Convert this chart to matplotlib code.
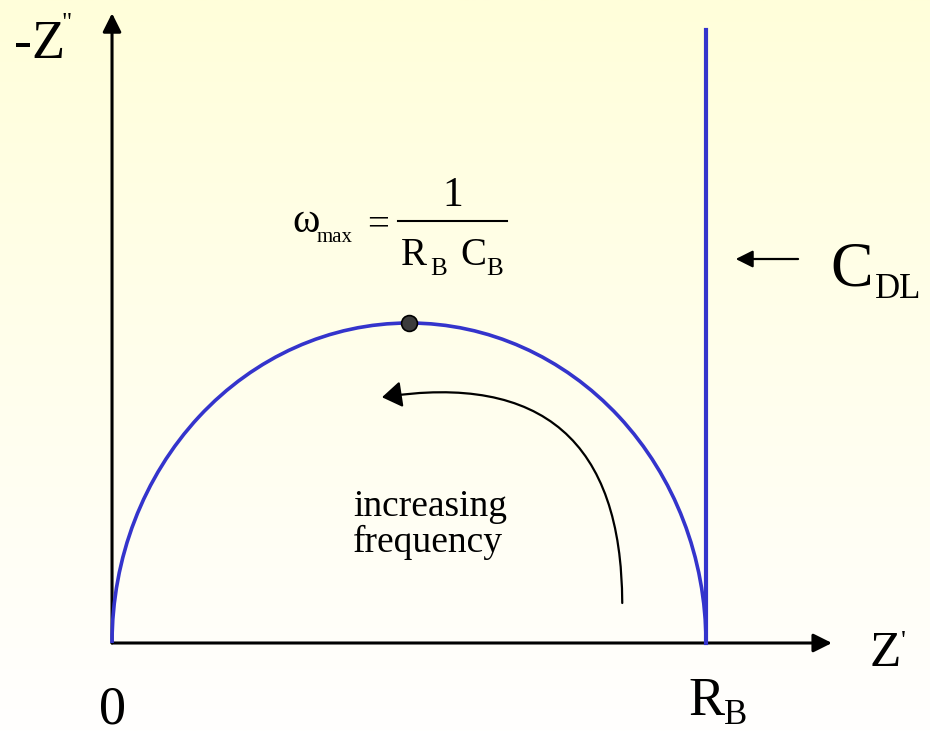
import matplotlib.pyplot as plt
from matplotlib.patches import Arc
import numpy as np

# schematic values (units of R_B)
R_B = 1.0
peak_x = [R_B / 2]
peak_y = [R_B / 2]
cdl_top = 0.958
axis_x_end = 1.212
axis_y_end = 0.984

blue = '#3434cc'
serif = ['Liberation Serif', 'DejaVu Serif']

fig = plt.figure(figsize=(9.30, 7.31), dpi=100)
ax = fig.add_axes([0, 0, 1, 1])
ax.set_xlim(-0.1886, 1.3771)
ax.set_ylim(-0.1375, 1.0047)
ax.axis('off')

# pale yellow gradient background
grad = np.linspace(0, 1, 256).reshape(-1, 1)
top = np.array([255, 254, 218]) / 255
bot = np.array([255, 255, 254]) / 255
img = top[None, None, :] * (1 - grad[:, :, None]) + bot[None, None, :] * grad[:, :, None]
ax.imshow(img, extent=[-0.1886, 1.3771, -0.1375, 1.0047], aspect='auto', zorder=0, origin='upper')

# axes with arrows
ax.annotate('', xy=(axis_x_end, 0), xytext=(0, 0),
            arrowprops=dict(arrowstyle='-|>', lw=2.2, color='k', mutation_scale=28, shrinkA=0, shrinkB=0))
ax.annotate('', xy=(0, axis_y_end), xytext=(0, 0),
            arrowprops=dict(arrowstyle='-|>', lw=2.2, color='k', mutation_scale=28, shrinkA=0, shrinkB=0))

# semicircle and double-layer capacitance line
ax.add_patch(Arc((R_B / 2, 0), R_B, R_B, theta1=0, theta2=180, color=blue, lw=2.6, zorder=3))
ax.plot([R_B, R_B], [0, cdl_top], color=blue, lw=3, zorder=3)
ax.scatter(peak_x, peak_y, s=130, color='#3c3c3c', edgecolor='k', lw=1.2, zorder=5)

# increasing frequency arrow
ax.annotate('', xy=(0.4545, 0.384), xytext=(0.859, 0.0625),
            arrowprops=dict(arrowstyle='-|>,head_length=0.6,head_width=0.4', lw=1.6, color='k',
                            mutation_scale=20, shrinkA=0, shrinkB=0,
                            connectionstyle='arc3,rad=0.58'))
ax.text(0.406, 0.142, 'increasing\nfrequency', fontsize=27, family=serif, ha='left',
        va='baseline', linespacing=1.05)

# C_DL arrow
ax.annotate('', xy=(1.05, 0.6), xytext=(1.155, 0.6),
            arrowprops=dict(arrowstyle='-|>', lw=1.6, color='k', mutation_scale=26, shrinkA=0, shrinkB=0))
ax.text(1.21, 0.559, 'C', fontsize=46, family=serif, va='baseline')
ax.text(1.284, 0.539, 'DL', fontsize=25, family=serif, va='baseline')

# axis labels
ax.text(-0.165, 0.914, '-Z', fontsize=39, family=serif, va='baseline')
ax.text(-0.085, 0.958, '"', fontsize=18, family=serif, va='baseline')
ax.text(1.276, -0.036, 'Z', fontsize=37, family=serif, va='baseline')
ax.text(1.328, -0.009, "'", fontsize=20, family=serif, va='baseline')
ax.text(0.0, -0.125, '0', fontsize=39, family=serif, ha='center', va='baseline')
ax.text(0.97, -0.112, 'R', fontsize=39, family=serif, va='baseline')
ax.text(1.03, -0.127, 'B', fontsize=25, family=serif, va='baseline')

# omega_max formula
ax.text(0.303, 0.642, 'ω', fontsize=30, family=serif, va='baseline')
ax.text(0.345, 0.627, 'max', fontsize=15, family=serif, va='baseline')
ax.text(0.43, 0.637, '=', fontsize=28, family=serif, va='baseline')
ax.plot([0.481, 0.665], [0.659, 0.659], color='k', lw=1.5)
ax.text(0.574, 0.683, '1', fontsize=30, family=serif, ha='center', va='baseline')
ax.text(0.486, 0.591, 'R', fontsize=28, family=serif, va='baseline')
ax.text(0.535, 0.575, 'B', fontsize=18, family=serif, va='baseline')
ax.text(0.586, 0.591, 'C', fontsize=28, family=serif, va='baseline')
ax.text(0.63, 0.575, 'B', fontsize=18, family=serif, va='baseline')

fig.savefig('out.png', dpi=100)
